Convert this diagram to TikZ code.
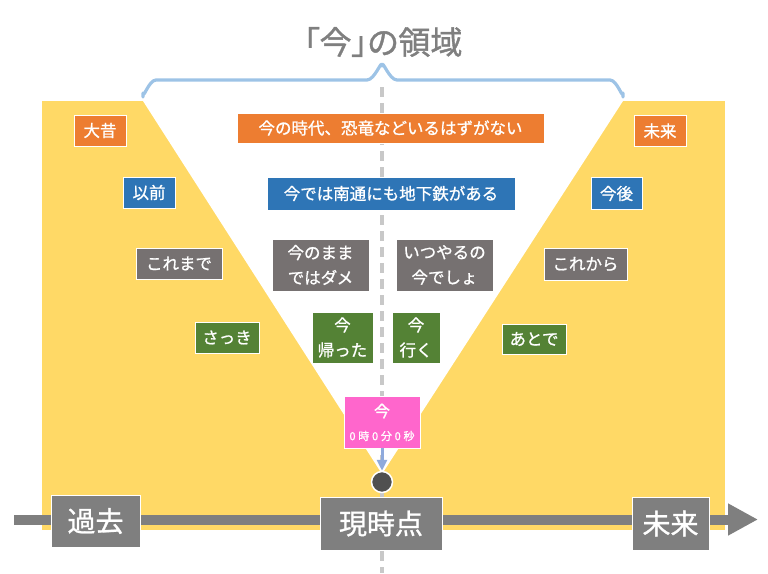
\documentclass[tikz,border=0pt]{standalone}
\usepackage{fontspec}
\newfontfamily\jp[FakeBold=1]{Noto Sans CJK JP}
\newfontfamily\jpt[FakeBold=1.2,RawFeature=+palt]{Noto Sans CJK JP}
\usetikzlibrary{arrows.meta}
\definecolor{cOrange}{HTML}{ED7D31}
\definecolor{cBlue}{HTML}{2E75B6}
\definecolor{cGray}{HTML}{767171}
\definecolor{cGreen}{HTML}{548235}
\definecolor{cYellow}{HTML}{FFD966}
\definecolor{cPink}{HTML}{FF66CC}
\definecolor{cAxis}{HTML}{7F7F7F}
\definecolor{cBrace}{HTML}{9DC3E6}
\definecolor{cArrow}{HTML}{8FAADC}
\definecolor{cDash}{HTML}{C8C8C8}
\definecolor{cDot}{HTML}{505050}
\begin{document}
\begin{tikzpicture}[x=1pt,y=-1pt,
  lbl/.style={draw=white, line width=0.8pt, text=white, inner sep=0pt, align=center,
    font=\jp\fontsize{16.5}{25}\selectfont},
  big/.style={draw=white, line width=0.8pt, text=white, inner sep=0pt, fill=cAxis,
    font=\jp\fontsize{28}{30}\selectfont},
  dashline/.style={cDash, line width=3.5pt, dash pattern=on 10pt off 6pt},
  bracestyle/.style={cBrace, line width=3.2pt, line cap=round, line join=round},
]
\useasboundingbox (0,0) rectangle (768,573);
% background regions
\fill[cYellow] (42,101) rectangle (725,530);
\fill[white] (143,101) -- (623,101) -- (382,474) -- cycle;
% dashed centre line
\coordinate (dTop) at (382,87);
\coordinate (dBot) at (382,573);
\draw[dashline] (dTop) -- (dBot);
% title and brace
\node[font=\jpt\fontsize{32}{32}\selectfont, text=cAxis] (title) at (383,42) {「今」の領域};
\draw[bracestyle] (143,97) -- (143,93) to[out=-90,in=180] (156,80) -- (367,80)
  to[out=0,in=90] (382,66) to[out=90,in=180] (397,80) -- (610,80)
  to[out=0,in=-90] (623,93) -- (623,97);
% time axis
\coordinate (axS) at (14,519.5);
\coordinate (axE) at (758,519.5);
\draw[cAxis, line width=10pt, -{Triangle[length=30pt,width=30pt]}] (axS) -- (axE);
\node[big, minimum width=89pt, minimum height=52pt] (kako) at (95.5,521) {過去};
\node[big, minimum width=122pt, minimum height=53pt] (genji) at (381,523.5) {現時点};
\node[big, minimum width=77pt, minimum height=53pt] (mirai2) at (670.5,523.5) {未来};
% left side labels
\node[lbl, fill=cOrange, minimum width=52pt, minimum height=31pt] (oomukashi) at (100,130.5) {大昔};
\node[lbl, fill=cBlue, minimum width=52pt, minimum height=31pt] (izen) at (149,192.5) {以前};
\node[lbl, fill=cGray, minimum width=86pt, minimum height=31pt] (koremade) at (179,263.5) {これまで};
\node[lbl, fill=cGreen, minimum width=64pt, minimum height=31pt] (sakki) at (227,337.5) {さっき};
% right side labels
\node[lbl, fill=cOrange, minimum width=52pt, minimum height=31pt] (mirai) at (660,131) {未来};
\node[lbl, fill=cBlue, minimum width=51pt, minimum height=32pt] (kongo) at (616.5,193.5) {今後};
\node[lbl, fill=cGray, minimum width=83pt, minimum height=32pt] (korekara) at (585.5,264) {これから};
\node[lbl, fill=cGreen, minimum width=64pt, minimum height=30pt] (atode) at (534,339) {あとで};
% centre labels
\node[lbl, fill=cOrange, minimum width=307pt, minimum height=30pt] (kyoryu) at (390.5,128) {今の時代、恐竜などいるはずがない};
\node[lbl, fill=cBlue, minimum width=248pt, minimum height=33pt] (chikatetsu) at (391,193.5) {今では南通にも地下鉄がある};
\node[lbl, fill=cGray, minimum width=97pt, minimum height=52pt] (imanomama) at (320.5,265) {今のまま\\ではダメ};
\node[lbl, fill=cGray, minimum width=97pt, minimum height=52pt] (itsuyaru) at (444.5,265) {いつやるの\\今でしょ};
\node[lbl, fill=cGreen, minimum width=61pt, minimum height=51pt] (kaetta) at (342.5,337.5) {今\\帰った};
\node[lbl, fill=cGreen, minimum width=48pt, minimum height=51pt] (iku) at (416,337.5) {今\\行く};
% now box
\node[draw=white, line width=0.8pt, fill=cPink, minimum width=76pt, minimum height=52pt, inner sep=0pt] (ima) at (382,422) {};
\node[text=white, font=\jp\fontsize{16}{16}\selectfont, inner sep=0pt] (imaT) at (382,411) {今};
\node[text=white, font=\jp\fontsize{11}{11}\selectfont\addfontfeature{LetterSpace=25}, inner sep=0pt] (imaS) at (382,436) {0時0分0秒};
% present dot and arrow
\node[circle, fill=cDot, draw=white, line width=1.5pt, minimum size=21pt, inner sep=0pt] (dot) at (382,482) {};
\draw[cArrow, line width=3pt, -{Triangle[length=11pt,width=10pt]}] (ima.south) -- (dot.north);
\end{tikzpicture}
\end{document}
